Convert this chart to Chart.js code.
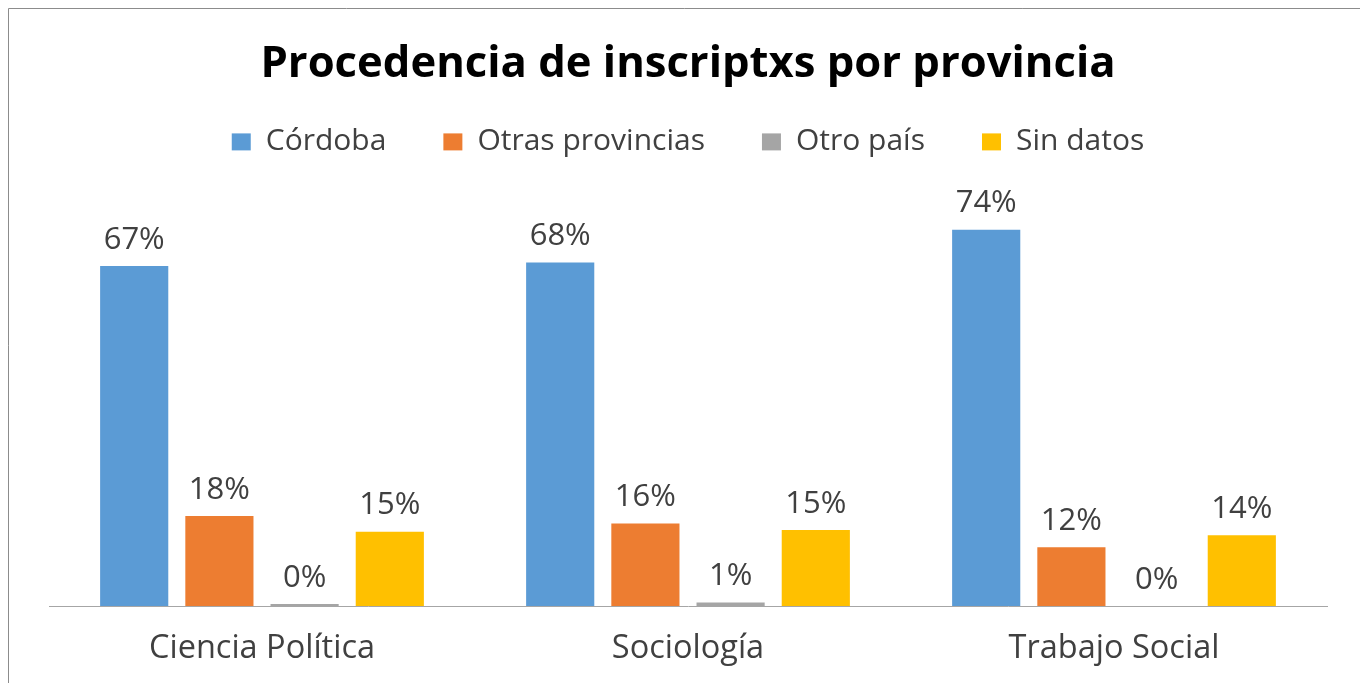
<!DOCTYPE html>
<html>
<head>
<meta charset="utf-8">
<script src="https://cdn.jsdelivr.net/npm/chart.js@4.4.1/dist/chart.umd.min.js"></script>
<style>
  body { margin: 0; background: #fff; }
  #wrap { position: absolute; left: 0; top: 0; width: 1360px; height: 683px; }
</style>
</head>
<body>
<div id="wrap"><canvas id="grafico"></canvas></div>
<script>
// datos (porcentajes)
const carreras = ['Ciencia Política', 'Sociología', 'Trabajo Social'];
const series = ['Córdoba', 'Otras provincias', 'Otro país', 'Sin datos'];
const cordoba = [67.2, 67.9, 74.4];
const otrasProvincias = [17.8, 16.3, 11.6];
const otroPais = [0.4, 0.7, 0.0];
const sinDatos = [14.7, 15.0, 14.0];
const colores = ['#5B9BD5', '#ED7D31', '#A5A5A5', '#FFC000'];

const valores = [cordoba, otrasProvincias, otroPais, sinDatos];
const myData = [];
for (let i = 0; i < series.length; i++) {
  myData.push({
    label: series[i],
    data: valores[i],
    backgroundColor: colores[i],
    borderWidth: 0,
    categoryPercentage: 0.8,
    barPercentage: 0.8
  });
}

// etiquetas encima de cada barra
const etiquetas = {
  id: 'etiquetas',
  afterDatasetsDraw(chart) {
    const ctx = chart.ctx;
    ctx.save();
    ctx.font = '31px "Open Sans"';
    ctx.fillStyle = '#404040';
    ctx.textAlign = 'center';
    ctx.textBaseline = 'middle';
    chart.data.datasets.forEach((ds, i) => {
      chart.getDatasetMeta(i).data.forEach((bar, j) => {
        ctx.fillText(Math.round(ds.data[j]) + '%', bar.x, bar.y - 26);
      });
    });
    ctx.restore();
  }
};

// borde del area del grafico (izquierda y arriba)
const borde = {
  id: 'borde',
  beforeDraw(chart) {
    const ctx = chart.ctx;
    ctx.save();
    ctx.strokeStyle = '#8c8c8c';
    ctx.lineWidth = 1;
    ctx.beginPath();
    ctx.moveTo(8.5, 683);
    ctx.lineTo(8.5, 8.5);
    ctx.lineTo(1360, 8.5);
    ctx.stroke();
    ctx.restore();
  }
};

new Chart(document.getElementById('grafico'), {
  type: 'bar',
  data: {
    labels: carreras,
    datasets: myData
  },
  plugins: [borde, etiquetas],
  options: {
    responsive: true,
    maintainAspectRatio: false,
    animation: false,
    layout: {
      padding: { left: 49, right: 33, top: 0, bottom: -8 }
    },
    plugins: {
      title: {
        display: true,
        text: 'Procedencia de inscriptxs por provincia',
        color: '#000',
        font: { family: 'Open Sans', size: 43.6, weight: 'bold', lineHeight: 0.25 },
        padding: { top: 59, bottom: 0 }
      },
      legend: {
        position: 'top',
        labels: {
          color: '#404040',
          font: { family: 'Open Sans', size: 30 },
          boxWidth: 19,
          boxHeight: 17,
          padding: 57
        }
      },
      tooltip: { enabled: false }
    },
    scales: {
      x: {
        grid: { display: false, drawTicks: false },
        border: { display: true, color: '#a6a6a6', width: 1 },
        ticks: {
          color: '#404040',
          font: { family: 'Open Sans', size: 32.5 },
          padding: 23
        }
      },
      y: {
        display: false,
        min: 0,
        max: 86.8
      }
    }
  }
});
</script>
</body>
</html>
